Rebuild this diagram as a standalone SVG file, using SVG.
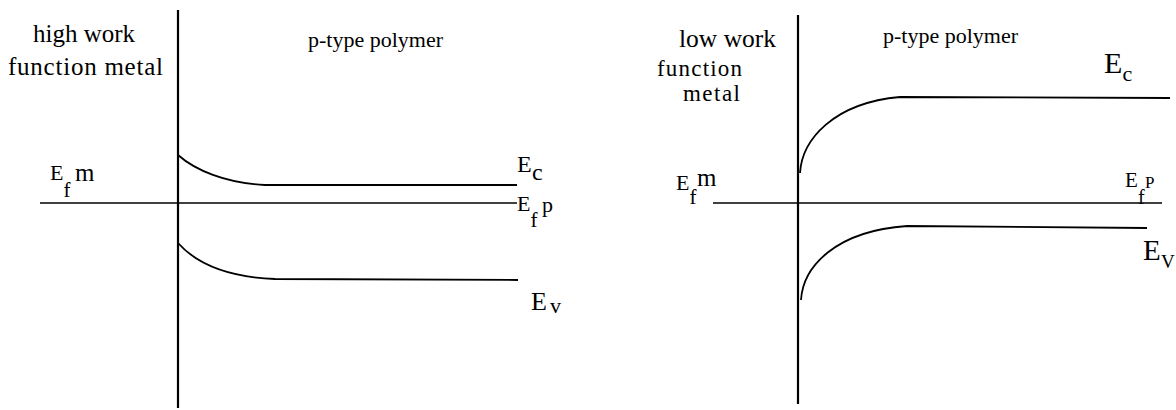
<svg xmlns="http://www.w3.org/2000/svg" width="1176" height="410" viewBox="0 0 1176 410">
<style>
.t{font-family:"Liberation Serif","Times New Roman",serif;fill:#000}
.ax{stroke:#000;stroke-width:2.2;fill:none}
.band{stroke:#000;stroke-width:1.8;fill:none}
.ef{stroke:#000;stroke-width:1.6;fill:none}
</style>
<rect width="1176" height="410" fill="#fff"/>
<g id="left-diagram">
  <line class="ax" x1="178" y1="10" x2="178" y2="408"/>
  <line class="ef" x1="40" y1="203" x2="517" y2="203"/>
  <path class="band" d="M178,155 C195,170 225,183 265,185 L517,185"/>
  <path class="band" d="M178,243 C195,262 225,277 275,279 L518,280"/>
  <text class="t" x="33" y="42" font-size="25" textLength="102">high work</text>
  <text class="t" x="8" y="75" font-size="25" textLength="155">function metal</text>
  <text class="t" x="308" y="47" font-size="22">p-type polymer</text>
  <text class="t" x="50" y="180" font-size="22">E</text>
  <text class="t" x="63.5" y="197" font-size="21">f</text>
  <text class="t" x="75" y="181" font-size="25">m</text>
  <text class="t" x="517" y="172" font-size="24">E</text>
  <text class="t" x="532" y="180" font-size="24">c</text>
  <text class="t" x="517" y="211" font-size="22">E</text>
  <text class="t" x="530.5" y="227" font-size="21">f</text>
  <text class="t" x="542" y="212" font-size="22">p</text>
  <text class="t" x="531" y="310" font-size="26">E</text>
  <text class="t" x="550" y="313" font-size="22">v</text>
</g>
<g id="right-diagram">
  <line class="ax" x1="798" y1="15" x2="798" y2="404"/>
  <line class="ef" x1="713" y1="203" x2="1162" y2="203"/>
  <path class="band" d="M800,173 C802,140 833,103 900,97 L1170,98"/>
  <path class="band" d="M801,300 C803,267 835,231 907,226 L1147,228"/>
  <text class="t" x="679" y="47" font-size="25.5">low work</text>
  <text class="t" x="657" y="76" font-size="23" textLength="85">function</text>
  <text class="t" x="683" y="101" font-size="23" textLength="57">metal</text>
  <text class="t" x="883" y="43" font-size="22">p-type polymer</text>
  <text class="t" x="676" y="190" font-size="22">E</text>
  <text class="t" x="689.5" y="204" font-size="21">f</text>
  <text class="t" x="697" y="186" font-size="25">m</text>
  <text class="t" x="1104" y="73" font-size="30">E</text>
  <text class="t" x="1122.5" y="81" font-size="22">c</text>
  <text class="t" x="1125" y="187" font-size="21">E</text>
  <text class="t" x="1138" y="204" font-size="20">f</text>
  <text class="t" x="1145" y="188" font-size="17">P</text>
  <text class="t" x="1143" y="260" font-size="29">E</text>
  <text class="t" x="1161" y="268" font-size="19">V</text>
</g>
</svg>
